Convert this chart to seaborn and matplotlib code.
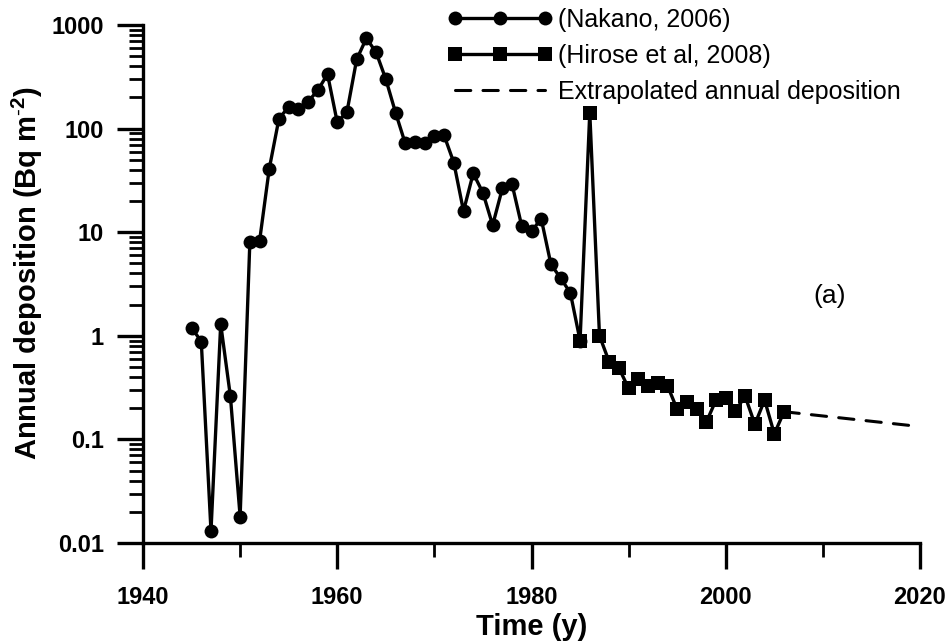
import matplotlib
matplotlib.use('Agg')
import matplotlib.pyplot as plt
import matplotlib.ticker as mticker
import seaborn as sns

# ==============================================================
# data
# ==============================================================
nakano_year = list(range(1945, 1986))
nakano_dep = [1.2, 0.88, 0.013, 1.3, 0.26, 0.018, 8.0, 8.2, 41, 125,
              162, 155, 182, 235, 335, 115, 145, 465, 745, 545,
              300, 143, 72, 75, 73, 85, 86, 47, 16, 37,
              24, 11.7, 26.5, 29, 11.4, 10.2, 13.5, 4.9, 3.6, 2.6,
              0.9]

hirose_year = list(range(1985, 2007))
hirose_dep = [0.9, 143, 1.0, 0.56, 0.49, 0.31, 0.38, 0.33, 0.35, 0.33,
              0.195, 0.23, 0.195, 0.147, 0.24, 0.25, 0.19, 0.26, 0.14, 0.24,
              0.113, 0.185]

extrap_year = [2006, 2020]
extrap_dep = [0.185, 0.133]

label_nakano = '(Nakano, 2006)'
label_hirose = '(Hirose et al, 2008)'
label_extrap = 'Extrapolated annual deposition'

# ==============================================================
# style
# ==============================================================
sns.set_theme(style='ticks')
plt.rcParams['font.family'] = ['Liberation Sans', 'DejaVu Sans']
plt.rcParams['mathtext.fontset'] = 'custom'
plt.rcParams['mathtext.rm'] = 'Liberation Sans'
plt.rcParams['mathtext.bf'] = 'Liberation Sans:bold'
for key in ['text.color', 'axes.labelcolor', 'xtick.color', 'ytick.color', 'axes.edgecolor']:
    plt.rcParams[key] = 'black'

fig = plt.figure(figsize=(9.48, 6.43), dpi=100)
ax = fig.add_axes([143 / 948, 1 - 543 / 643, 777 / 948, 518 / 643])

lw = 2.4
sns.lineplot(x=nakano_year, y=nakano_dep, ax=ax, color='black', lw=lw,
             marker='o', ms=10, mec='black', mew=0, label=label_nakano, zorder=3)
sns.lineplot(x=hirose_year, y=hirose_dep, ax=ax, color='black', lw=lw,
             marker='s', ms=10, mec='black', mew=0, label=label_hirose, zorder=4)
sns.lineplot(x=extrap_year, y=extrap_dep, ax=ax, color='black', lw=2.2,
             linestyle=(0, (5, 4)), dash_capstyle='round', label=label_extrap, zorder=2)

ax.set_yscale('log')
ax.set_xlim(1940, 2020)
ax.set_ylim(0.01, 1000)
ax.xaxis.set_major_locator(mticker.MultipleLocator(20))
ax.xaxis.set_minor_locator(mticker.MultipleLocator(10))
ax.yaxis.set_major_locator(mticker.LogLocator(base=10, numticks=10))
ax.yaxis.set_minor_locator(mticker.LogLocator(base=10, subs=range(2, 10), numticks=10))
ax.yaxis.set_major_formatter(mticker.FuncFormatter(lambda v, p: f'{v:g}'))
ax.yaxis.set_minor_formatter(mticker.NullFormatter())

sns.despine(ax=ax)
for side in ['left', 'bottom']:
    ax.spines[side].set_linewidth(lw)

ax.tick_params(which='major', direction='out', length=19, width=lw,
               labelsize=17, color='black')
ax.tick_params(axis='y', which='major', pad=9)
ax.tick_params(axis='x', which='major', pad=12)
ax.tick_params(which='minor', direction='out', length=10, width=2, color='black')
plt.setp(ax.get_xticklabels() + ax.get_yticklabels(), fontweight='bold')

ax.set_xlabel('Time (y)', fontsize=21, fontweight='bold', labelpad=3)
ax.set_ylabel('Annual deposition (Bq m$^{\\text{-}\\mathbf{2}}$)', fontsize=21,
              fontweight='bold')
ax.yaxis.set_label_coords(-98 / 777, 270 / 518)

ax.text(2010.7, 2.4, '(a)', fontsize=19, ha='center', va='center')

ax.legend(loc='upper left', bbox_to_anchor=(445 / 948, 1 - 5 / 643),
          bbox_transform=fig.transFigure, frameon=False, numpoints=3,
          handlelength=4.2, handletextpad=0.2, labelspacing=0.48,
          borderpad=0.1, borderaxespad=0, fontsize=18)

fig.savefig('out.png', dpi=100)
